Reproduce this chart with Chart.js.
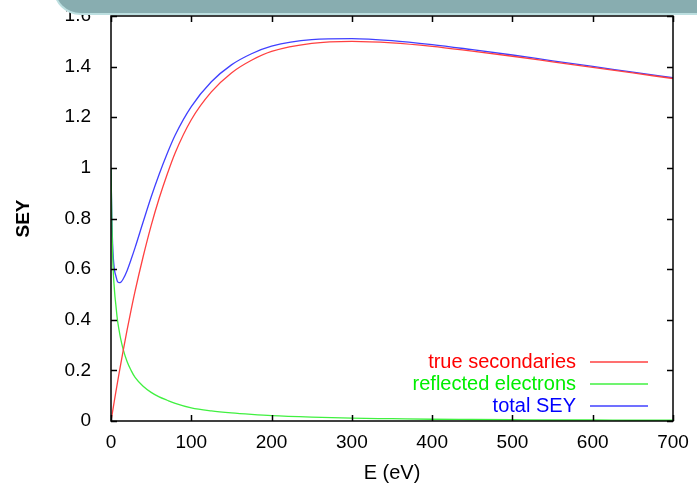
<!DOCTYPE html>
<html>
<head>
<meta charset="utf-8">
<script src="https://cdn.jsdelivr.net/npm/chart.js@4/dist/chart.umd.min.js"></script>
<style>
  body { margin: 0; background: #fff; overflow: hidden; }
  #wrap { position: relative; width: 697px; height: 489px; }
  #banner {
    position: absolute; left: 53px; top: -40px; width: 720px; height: 53px;
    background: #88adb0; border-radius: 28px;
    border: 2px solid #bcdfe0; border-top: none; z-index: 2;
  }
</style>
</head>
<body>
<div id="wrap">
  <div id="banner"></div>
  <canvas id="myChart" width="697" height="489"></canvas>
</div>
<script>
// energy in eV
const energy = [0, 1, 2, 3, 4, 5, 6, 8, 10, 12, 15, 20, 25, 30, 40, 50, 60, 70, 80, 100,
  125, 150, 175, 200, 250, 300, 350, 400, 450, 500, 550, 600, 650, 700];
const trueSec = [0, 0.019, 0.038, 0.057, 0.076, 0.095, 0.114, 0.151, 0.187, 0.223, 0.275, 0.359, 0.438,
  0.513, 0.649, 0.772, 0.880, 0.975, 1.06, 1.19, 1.30, 1.375, 1.425, 1.46, 1.492, 1.500,
  1.494, 1.480, 1.461, 1.441, 1.419, 1.397, 1.375, 1.353];
const reflected = [1.0, 0.79, 0.66, 0.58, 0.53, 0.49, 0.46, 0.40, 0.36, 0.325, 0.285, 0.235, 0.20,
  0.172, 0.137, 0.113, 0.095, 0.082, 0.07, 0.052, 0.04, 0.032, 0.026, 0.021, 0.015, 0.011,
  0.009, 0.007, 0.006, 0.005, 0.004, 0.004, 0.003, 0.003];
const totalSey = [1.0, 0.81, 0.70, 0.64, 0.605, 0.585, 0.574, 0.551, 0.547, 0.548, 0.56, 0.594, 0.638,
  0.685, 0.786, 0.885, 0.975, 1.057, 1.13, 1.242, 1.34, 1.407, 1.451, 1.481, 1.507, 1.511,
  1.503, 1.487, 1.467, 1.446, 1.423, 1.401, 1.378, 1.356];
const seriesNames = ['true secondaries', 'reflected electrons', 'total SEY'];
const seriesColors = ['#ff4040', '#40f040', '#4040ff'];
const keyTextColors = ['#ff0000', '#00ee00', '#0000ff'];

function pts(vals) {
  return energy.map((e, i) => ({ x: e, y: vals[i] }));
}

// gnuplot style: ticks inside on all sides + key in the bottom right
const gnuplotBits = {
  id: 'gnuplotBits',
  afterDraw(chart) {
    const ctx = chart.ctx;
    const a = chart.chartArea;
    const x = chart.scales.x, y = chart.scales.y;
    ctx.save();
    ctx.strokeStyle = '#000';
    ctx.lineWidth = 1.5;
    ctx.beginPath();
    x.ticks.forEach(t => {
      const px = Math.round(x.getPixelForValue(t.value)) + 0.5;
      ctx.moveTo(px, a.bottom); ctx.lineTo(px, a.bottom - 6);
      ctx.moveTo(px, a.top); ctx.lineTo(px, a.top + 6);
    });
    y.ticks.forEach(t => {
      const py = Math.round(y.getPixelForValue(t.value)) + 0.5;
      ctx.moveTo(a.left, py); ctx.lineTo(a.left + 6, py);
      ctx.moveTo(a.right, py); ctx.lineTo(a.right - 6, py);
    });
    ctx.stroke();
    ctx.strokeRect(a.left, a.top, a.right - a.left, a.bottom - a.top);

    // key
    ctx.font = '20px "Liberation Sans", Arial, sans-serif';
    ctx.textAlign = 'right';
    ctx.textBaseline = 'middle';
    seriesNames.forEach((name, i) => {
      const ty = 362 + i * 22;
      ctx.fillStyle = keyTextColors[i];
      ctx.fillText(name, 576, ty);
      ctx.beginPath();
      ctx.strokeStyle = seriesColors[i];
      ctx.lineWidth = 1.3;
      ctx.moveTo(590, ty);
      ctx.lineTo(648, ty);
      ctx.stroke();
    });
    ctx.restore();
  }
};

const tickFont = { family: '"Liberation Sans", Arial, sans-serif', size: 19 };

new Chart(document.getElementById('myChart'), {
  type: 'line',
  data: {
    datasets: [trueSec, reflected, totalSey].map((vals, i) => ({
      label: seriesNames[i],
      data: pts(vals),
      borderColor: seriesColors[i],
      borderWidth: 1.3,
      pointRadius: 0,
      cubicInterpolationMode: 'monotone',
      fill: false
    }))
  },
  options: {
    responsive: false,
    animation: false,
    layout: { padding: { top: 16, right: 24, left: 0, bottom: 0 } },
    plugins: { legend: { display: false }, tooltip: { enabled: false } },
    scales: {
      x: {
        type: 'linear', min: 0, max: 700,
        grid: { display: false },
        border: { display: false },
        ticks: { stepSize: 100, color: '#000', font: tickFont, padding: 2, maxRotation: 0 },
        title: {
          display: true, text: 'E (eV)', color: '#000',
          font: { family: '"Liberation Sans", Arial, sans-serif', size: 20 },
          padding: { top: 0, bottom: 4 }
        },
        afterFit(s) { s.height = 68; s.paddingLeft = 0; s.paddingRight = 0; }
      },
      y: {
        type: 'linear', min: 0, max: 1.6,
        grid: { display: false },
        border: { display: false },
        ticks: {
          stepSize: 0.2, color: '#000', font: tickFont, padding: 12,
          callback: v => String(Number(v.toFixed(1)))
        },
        title: {
          display: true, text: 'SEY', color: '#000',
          font: { family: '"Liberation Sans", Arial, sans-serif', size: 19, weight: 'bold' },
          padding: { top: 12, bottom: 0 }
        },
        afterFit(s) { s.width = 111; s.paddingTop = 0; s.paddingBottom = 0; }
      }
    }
  },
  plugins: [gnuplotBits]
});
</script>
</body>
</html>
